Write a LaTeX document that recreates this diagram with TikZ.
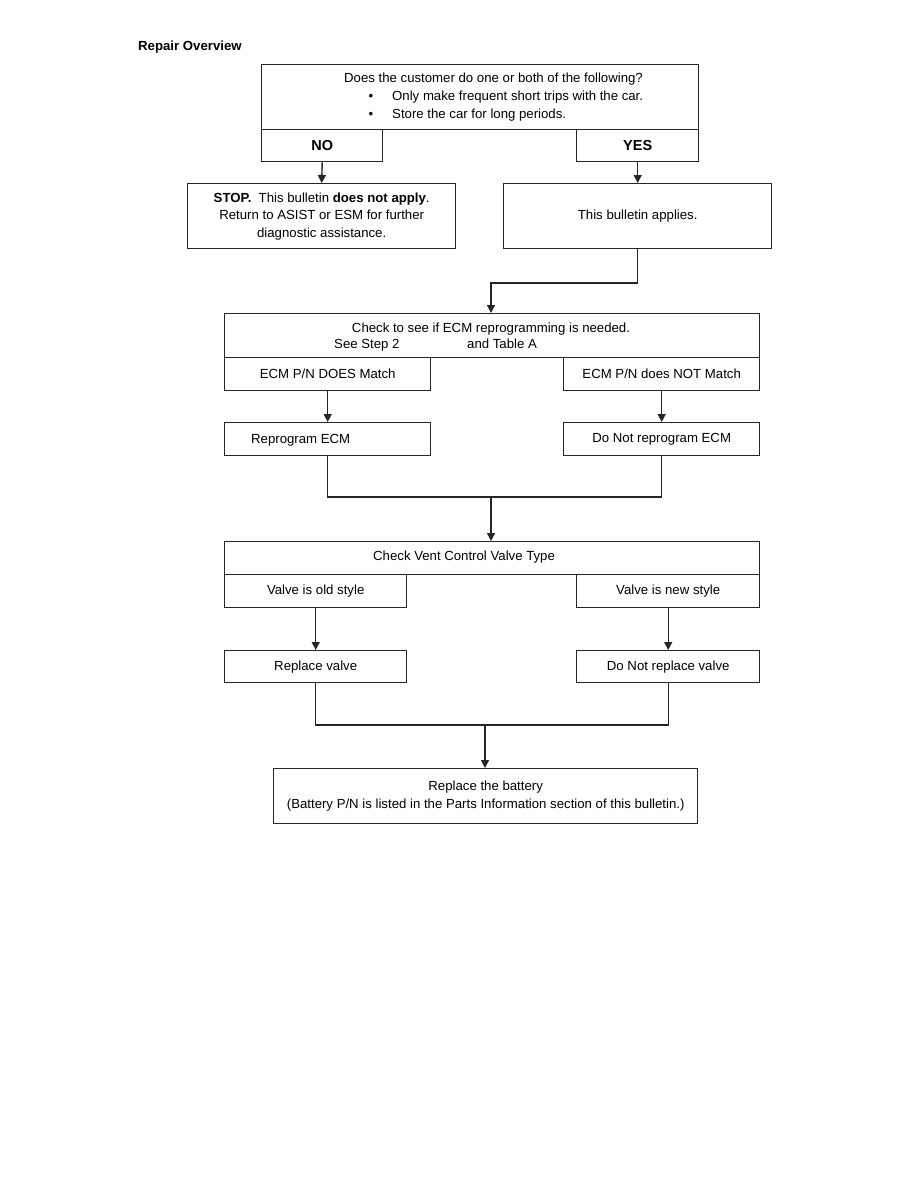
\documentclass[tikz,border=0pt]{standalone}
\usepackage{fontspec}
\setmainfont{Liberation Sans}
\usetikzlibrary{arrows.meta}
\tikzstyle{box} = [rectangle, draw=black!85, line width=1.4pt, inner sep=0pt, anchor=north west, align=center, font=\fontsize{13.2}{17.5}\selectfont]
\tikzstyle{yesno} = [box, font=\fontsize{14.5}{17}\selectfont\bfseries]
\tikzstyle{txt} = [inner sep=0pt, anchor=base west, font=\fontsize{13.2}{17}\selectfont]
\tikzstyle{flow} = [draw=black!85, line width=1.4pt, -{Triangle[length=8pt,width=8pt]}]
\tikzstyle{wire} = [draw=black!85, line width=1.4pt]
\begin{document}
\begin{tikzpicture}[x=1pt, y=-1pt]
% page
\fill[white] (0,0) rectangle (918,1188);
\useasboundingbox (0,0) rectangle (918,1188);
\node[txt, font=\fontsize{13.2}{17}\selectfont\bfseries] (title) at (138,51) {Repair Overview};
% Question and answers
\node[box, minimum width=437pt, minimum height=65pt] (q0) at (261,64) {};
\node[txt] (q0t) at (344,83) {Does the customer do one or both of the following?};
\node[txt, anchor=base] (q0b1) at (371,101) {\textbullet};
\node[txt] (q0l1) at (392,101) {Only make frequent short trips with the car.};
\node[txt, anchor=base] (q0b2) at (371,118) {\textbullet};
\node[txt] (q0l2) at (392,118) {Store the car for long periods.};
\node[yesno, minimum width=121pt, minimum height=32pt] (qno) at (261,129) {NO};
\node[yesno, minimum width=122pt, minimum height=32pt] (qyes) at (576,129) {YES};
% Outcomes
\node[box, minimum width=268pt, minimum height=65pt] (stop) at (187,183)
  {\textbf{STOP.}\ \ This bulletin \textbf{does not apply}.\\Return to ASIST or ESM for further\\diagnostic assistance.};
\node[box, minimum width=268pt, minimum height=65pt] (applies) at (503,183) {This bulletin applies.};
% ECM check
\node[box, minimum width=535pt, minimum height=44pt] (ecm) at (224,313) {};
\node[txt, anchor=base] (ecmt) at (491,332) {Check to see if ECM reprogramming is needed.};
\node[txt] (ecms) at (334,348) {See Step 2};
\node[txt] (ecma) at (467,348) {and Table A};
\node[box, minimum width=206pt, minimum height=33pt] (ecmdoes) at (224,357) {ECM P/N DOES Match};
\node[box, minimum width=196pt, minimum height=33pt] (ecmnot) at (563,357) {ECM P/N does NOT Match};
\node[box, minimum width=206pt, minimum height=33pt] (reprog) at (224,422) {};
\node[txt] (reprogt) at (251,443) {Reprogram ECM};
\node[box, minimum width=196pt, minimum height=33pt] (noreprog) at (563,422) {Do Not reprogram ECM};
% Vent valve check
\node[box, minimum width=535pt, minimum height=33pt] (vent) at (224,541) {};
\node[txt] (ventt) at (373,560) {Check Vent Control Valve Type};
\node[box, minimum width=182pt, minimum height=33pt] (oldv) at (224,574) {Valve is old style};
\node[box, minimum width=183pt, minimum height=33pt] (newv) at (576,574) {Valve is new style};
\node[box, minimum width=182pt, minimum height=32pt] (repv) at (224,650) {Replace valve};
\node[box, minimum width=183pt, minimum height=32pt] (norepv) at (576,650) {Do Not replace valve};
% Battery
\node[box, minimum width=424pt, minimum height=55pt] (batt) at (273,768)
  {Replace the battery\\(Battery P/N is listed in the Parts Information section of this bulletin.)};
% CONNECTORS
\coordinate (m0) at (491,283);
\coordinate (m1) at (491,497);
\coordinate (m2) at (485,725);
\draw[flow] (qno.south) -- (stop.north);
\draw[flow] (qyes.south) -- (applies.north);
\draw[flow] (applies.south) |- (m0) -- (m0 |- ecm.north);
\draw[flow] (ecmdoes.south) -- (reprog.north -| ecmdoes.south);
\draw[flow] (ecmnot.south) -- (noreprog.north);
\draw[wire] (reprog.south) |- (m1) -| (noreprog.south);
\draw[flow] (m1) -- (m1 |- vent.north);
\draw[flow] (oldv.south) -- (repv.north);
\draw[flow] (newv.south) -- (norepv.north);
\draw[wire] (repv.south) |- (m2) -| (norepv.south);
\draw[flow] (m2) -- (m2 |- batt.north);
\end{tikzpicture}
\end{document}
